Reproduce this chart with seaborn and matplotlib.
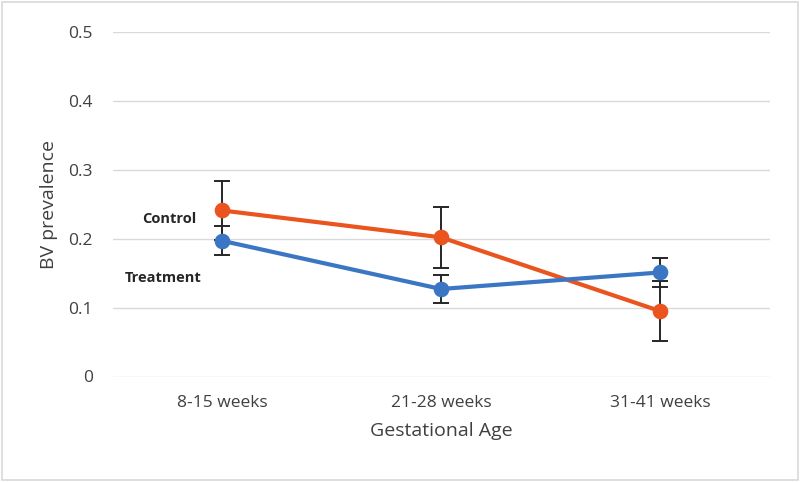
import matplotlib
matplotlib.use("Agg")
import matplotlib.pyplot as plt
import matplotlib.ticker as mticker
from matplotlib.patches import Rectangle
import pandas as pd
import seaborn as sns

ages = ["8-15 weeks", "21-28 weeks", "31-41 weeks"]
control = [0.241, 0.202, 0.095]
control_err = [0.043, 0.044, 0.043]
treatment = [0.197, 0.127, 0.151]
treatment_err = [0.021, 0.020, 0.021]
groups = ["Control", "Treatment"]
colors = {"Control": "#E9541F", "Treatment": "#3A76C4"}

df = pd.DataFrame({
    "age": ages * 2,
    "prev": control + treatment,
    "group": ["Control"] * 3 + ["Treatment"] * 3,
})

sns.set_style("white")
plt.rcParams["font.family"] = ["Open Sans", "DejaVu Sans"]

fig = plt.figure(figsize=(8, 4.82), dpi=100)
ax = fig.add_axes([112.5 / 800, (482 - 376.5) / 482, 657 / 800, 344.5 / 482])

# error bars first so markers sit on top
xpos = range(len(ages))
ax.errorbar(xpos, control, yerr=control_err, fmt="none", ecolor="#262626",
            elinewidth=1.4, capsize=6, capthick=1.4, zorder=2)
ax.errorbar(xpos, treatment, yerr=treatment_err, fmt="none", ecolor="#262626",
            elinewidth=1.4, capsize=6, capthick=1.4, zorder=2)

sns.pointplot(data=df, x="age", y="prev", hue="group", order=ages,
              hue_order=groups, palette=colors, markers="o", errorbar=None,
              linewidth=3, markersize=9, legend=False, ax=ax)
for coll in ax.collections + ax.lines:
    coll.set_zorder(3)

ax.set_xlim(-0.5, 2.5)
ax.set_ylim(0, 0.5)
ax.set_yticks([0, 0.1, 0.2, 0.3, 0.4, 0.5])
ax.yaxis.set_major_formatter(mticker.FuncFormatter(lambda v, p: "0" if v == 0 else f"{v:.1f}"))
ax.grid(axis="y", color="#d9d9d9", linewidth=1)
ax.set_axisbelow(True)
sns.despine(ax=ax, left=True, bottom=True, top=True, right=True)
ax.tick_params(axis="both", length=0, labelsize=12.5, colors="#404040")
ax.tick_params(axis="y", pad=14)
ax.tick_params(axis="x", pad=13)

ax.set_xlabel("Gestational Age", fontsize=14, color="#404040", labelpad=8)
ax.set_ylabel("BV prevalence", fontsize=14, color="#404040")
ax.yaxis.set_label_coords(-0.083, 0.5)

ax.text(-0.242, 0.229, "Control", fontsize=10.5, fontweight="bold", ha="center", va="center")
ax.text(-0.267, 0.143, "Treatment", fontsize=10.5, fontweight="bold", ha="center", va="center")

fig.patches.append(Rectangle((0.003, 0.004), 0.994, 0.992, transform=fig.transFigure,
                             fill=False, edgecolor="#d9d9d9", linewidth=1.2))

fig.savefig("out.png", dpi=100)
